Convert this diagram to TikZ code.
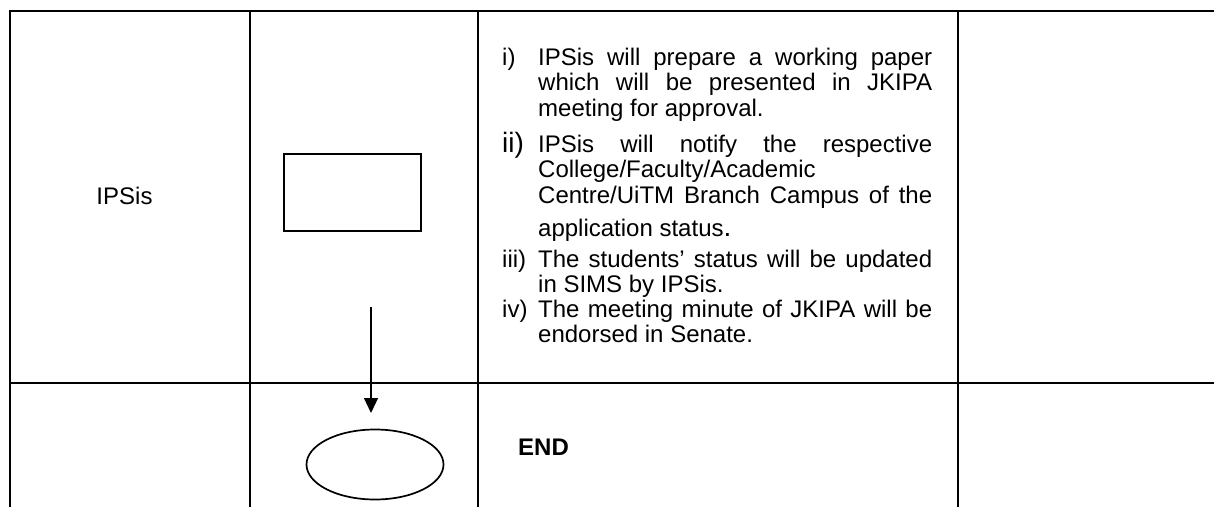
\documentclass[tikz,border=0pt]{standalone}
\usepackage{fontspec}
\setmainfont{Liberation Sans}
\usetikzlibrary{shapes.geometric,arrows.meta}

\newcommand{\itemsize}{\fontsize{24}{25.5}\selectfont}
\newcommand{\bigsize}{\fontsize{28}{30}\selectfont}
\newcommand{\itempar}{\itemsize\tolerance=10000\hyphenpenalty=10000\parindent=0pt}

\begin{document}
\begin{tikzpicture}[
            x=1pt, y=-1pt,
            grid/.style={draw=black, line width=1.6pt, line cap=rect},
            process/.style={draw=black, line width=2.3pt, rectangle, minimum width=137pt, minimum height=77pt, inner sep=0pt},
            terminal/.style={draw=black, line width=1.7pt, ellipse, minimum width=137pt, minimum height=70pt, inner sep=0pt},
            flow/.style={line width=1.2pt, -{Triangle[length=15pt, width=14pt]}},
            celltext/.style={font=\itemsize, inner sep=0pt},
            itemlabel/.style={font=\itemsize, inner sep=0pt, anchor=base west},
            itembody/.style={inner sep=0pt, anchor=base west}
        ]
        \useasboundingbox (0,0) rectangle (1214,506);

        % Tabelle
        \draw[grid] (10,11) -- (1214,11);
        \draw[grid] (10,383) -- (1214,383);
        \foreach \x in {10,250,478,958}
            \draw[grid] (\x,11) -- (\x,506);

        % Knoten
        \node[celltext, anchor=base] (actor) at (124.5,204) {IPSis};
        \node[process] (task) at (352.5,192.5) {};
        \node[terminal] (stop) at (375,464.5) {};
        \coordinate (flowstart) at (371,307);
        \coordinate (flowend) at (371,413);

        % Schritte
        \node[itembody] (txt1) at (538,65) {\parbox[t]{394pt}{\itempar IPSis will prepare a working paper\linebreak which will be presented in JKIPA\linebreak meeting for approval.}};
        \node[itembody] (txt2) at (538,152) {\parbox[t]{394pt}{\itempar IPSis will notify the respective\linebreak College/Faculty/Academic\newline Centre/UiTM Branch Campus of the\linebreak\rule{0pt}{28pt}application status{\bigsize .}}};
        \node[itembody] (txt3) at (538,267) {\parbox[t]{394pt}{\itempar The students’ status will be updated\linebreak in SIMS by IPSis.}};
        \node[itembody] (txt4) at (538,317) {\parbox[t]{394pt}{\itempar The meeting minute of JKIPA will be\linebreak endorsed in Senate.}};

        \node[itemlabel] (lbl1) at ([xshift=-36pt] txt1.base west) {i)};
        \node[itemlabel, font=\bigsize] (lbl2) at ([xshift=-36pt] txt2.base west) {ii)};
        \node[itemlabel] (lbl3) at ([xshift=-36pt] txt3.base west) {iii)};
        \node[itemlabel] (lbl4) at ([xshift=-36pt] txt4.base west) {iv)};

        \node[celltext, anchor=base west, font=\itemsize\bfseries] (endlabel) at (518,455) {END};

        % Kanten
        \draw[flow] (flowstart) -- (flowend);

    \end{tikzpicture}
\end{document}
